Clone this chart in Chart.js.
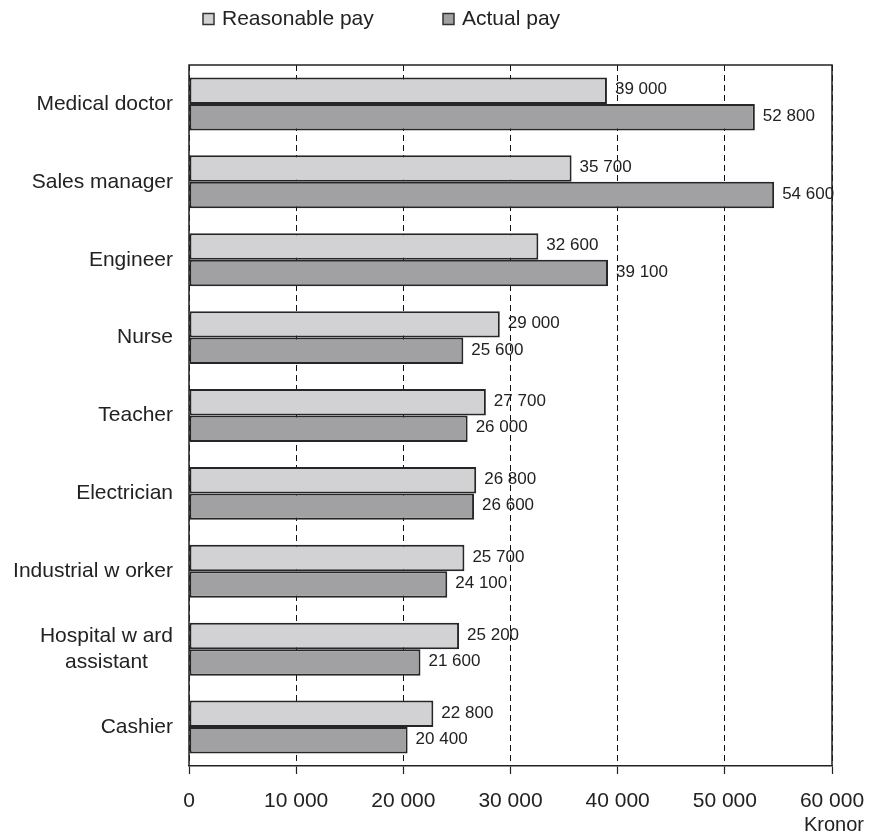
<!DOCTYPE html>
<html>
<head>
<meta charset="utf-8">
<script src="https://cdn.jsdelivr.net/npm/chart.js@4"></script>
<style>
  html, body { margin: 0; padding: 0; background: #ffffff; }
  #wrap { width: 876px; height: 838px; }
</style>
</head>
<body>
<div id="wrap"><canvas id="chart" width="876" height="838"></canvas></div>
<script>
// Monthly pay per occupation, in kronor
const occupations = [
  'Medical doctor', 'Sales manager', 'Engineer', 'Nurse', 'Teacher',
  'Electrician', 'Industrial w orker', ['Hospital w ard', 'assistant'], 'Cashier'
];
const reasonablePay = [39000, 35700, 32600, 29000, 27700, 26800, 25700, 25200, 22800];
const actualPay     = [52800, 54600, 39100, 25600, 26000, 26600, 24100, 21600, 20400];
const seriesNames = ['Reasonable pay', 'Actual pay'];
const xTicks = [0, 10000, 20000, 30000, 40000, 50000, 60000];
const unitLabel = 'Kronor';

const FONT = "'Liberation Sans', Arial, Helvetica, sans-serif";
const INK = '#222222';
const LIGHT = '#d2d2d4';
const DARK = '#a1a1a3';

function fmt(n) {
  return String(n).replace(/\B(?=(\d{3})+(?!\d))/g, ' ');
}

// Frame, category labels, value labels, legend and unit caption
const decorations = {
  id: 'decorations',
  afterDatasetsDraw(chart) {
    const { ctx, chartArea: a, scales } = chart;
    ctx.save();

    // frame (left, top, right); the bottom edge is the x axis border
    ctx.strokeStyle = INK;
    ctx.lineWidth = 1.5;
    ctx.setLineDash([]);
    ctx.beginPath();
    ctx.moveTo(a.left, a.bottom);
    ctx.lineTo(a.left, a.top);
    ctx.lineTo(a.right, a.top);
    ctx.lineTo(a.right, a.bottom);
    ctx.stroke();

    // value labels at the end of each bar
    ctx.fillStyle = INK;
    ctx.font = '17px ' + FONT;
    ctx.textAlign = 'left';
    ctx.textBaseline = 'middle';
    chart.data.datasets.forEach((ds, di) => {
      const meta = chart.getDatasetMeta(di);
      meta.data.forEach((bar, i) => {
        ctx.fillText(fmt(ds.data[i]), bar.x + 8, bar.y - 1);
      });
    });

    // category labels, right aligned; wrapped labels centred in their block
    const y = scales.y;
    ctx.font = '21px ' + FONT;
    const rightEdge = a.left - 16;
    occupations.forEach((lab, i) => {
      const yc = y.getPixelForValue(i);
      const lines = Array.isArray(lab) ? lab : [lab];
      const lh = 26;
      const w = Math.max(...lines.map(l => ctx.measureText(l).width));
      const cx = rightEdge - w / 2;
      ctx.textAlign = lines.length > 1 ? 'center' : 'right';
      lines.forEach((l, k) => {
        const ly = yc + (k - (lines.length - 1) / 2) * lh;
        ctx.fillText(l, lines.length > 1 ? cx : rightEdge, ly);
      });
    });

    // legend
    const legendY = 19;
    const starts = [a.left + 14, a.left + 254];
    chart.data.datasets.forEach((ds, di) => {
      const x0 = starts[di];
      ctx.fillStyle = ds.backgroundColor;
      ctx.fillRect(x0, legendY - 5.5, 11, 11);
      ctx.strokeStyle = '#333333';
      ctx.lineWidth = 1.5;
      ctx.strokeRect(x0, legendY - 5.5, 11, 11);
      ctx.fillStyle = INK;
      ctx.textAlign = 'left';
      ctx.fillText(ds.label, x0 + 19, legendY);
    });

    // unit caption
    ctx.font = '20px ' + FONT;
    ctx.textAlign = 'right';
    ctx.fillText(unitLabel, a.right + 32, a.bottom + 59);

    ctx.restore();
  }
};

new Chart(document.getElementById('chart'), {
  type: 'bar',
  data: {
    labels: occupations,
    datasets: [
      {
        label: seriesNames[0],
        data: reasonablePay,
        backgroundColor: LIGHT,
        borderColor: '#262626',
        borderWidth: 2,
        borderSkipped: false,
        barPercentage: 1.0,
        categoryPercentage: 0.68
      },
      {
        label: seriesNames[1],
        data: actualPay,
        backgroundColor: DARK,
        borderColor: '#262626',
        borderWidth: 2,
        borderSkipped: false,
        barPercentage: 1.0,
        categoryPercentage: 0.68
      }
    ]
  },
  options: {
    indexAxis: 'y',
    responsive: false,
    animation: false,
    events: [],
    layout: { padding: { left: 189, right: 44, top: 65, bottom: 0 } },
    plugins: {
      legend: { display: false },
      tooltip: { enabled: false }
    },
    scales: {
      y: {
        display: false
      },
      x: {
        min: xTicks[0],
        max: xTicks[xTicks.length - 1],
        afterBuildTicks(scale) {
          scale.ticks = xTicks.map(v => ({ value: v }));
        },
        afterFit(scale) {
          scale.height = 72;
          scale.paddingLeft = 0;
          scale.paddingRight = 0;
        },
        grid: {
          display: true,
          drawOnChartArea: true,
          drawTicks: true,
          tickLength: 8,
          color: '#111111',
          lineWidth: 1,
          tickBorderDash: [],
          tickColor: INK,
          tickWidth: 1.2
        },
        border: { display: true, color: INK, width: 1.5, dash: [6, 4] },
        ticks: {
          padding: 15,
          color: INK,
          font: { family: FONT, size: 21 },
          maxRotation: 0,
          autoSkip: false,
          callback: v => fmt(v)
        }
      }
    }
  },
  plugins: [decorations]
});
</script>
</body>
</html>
